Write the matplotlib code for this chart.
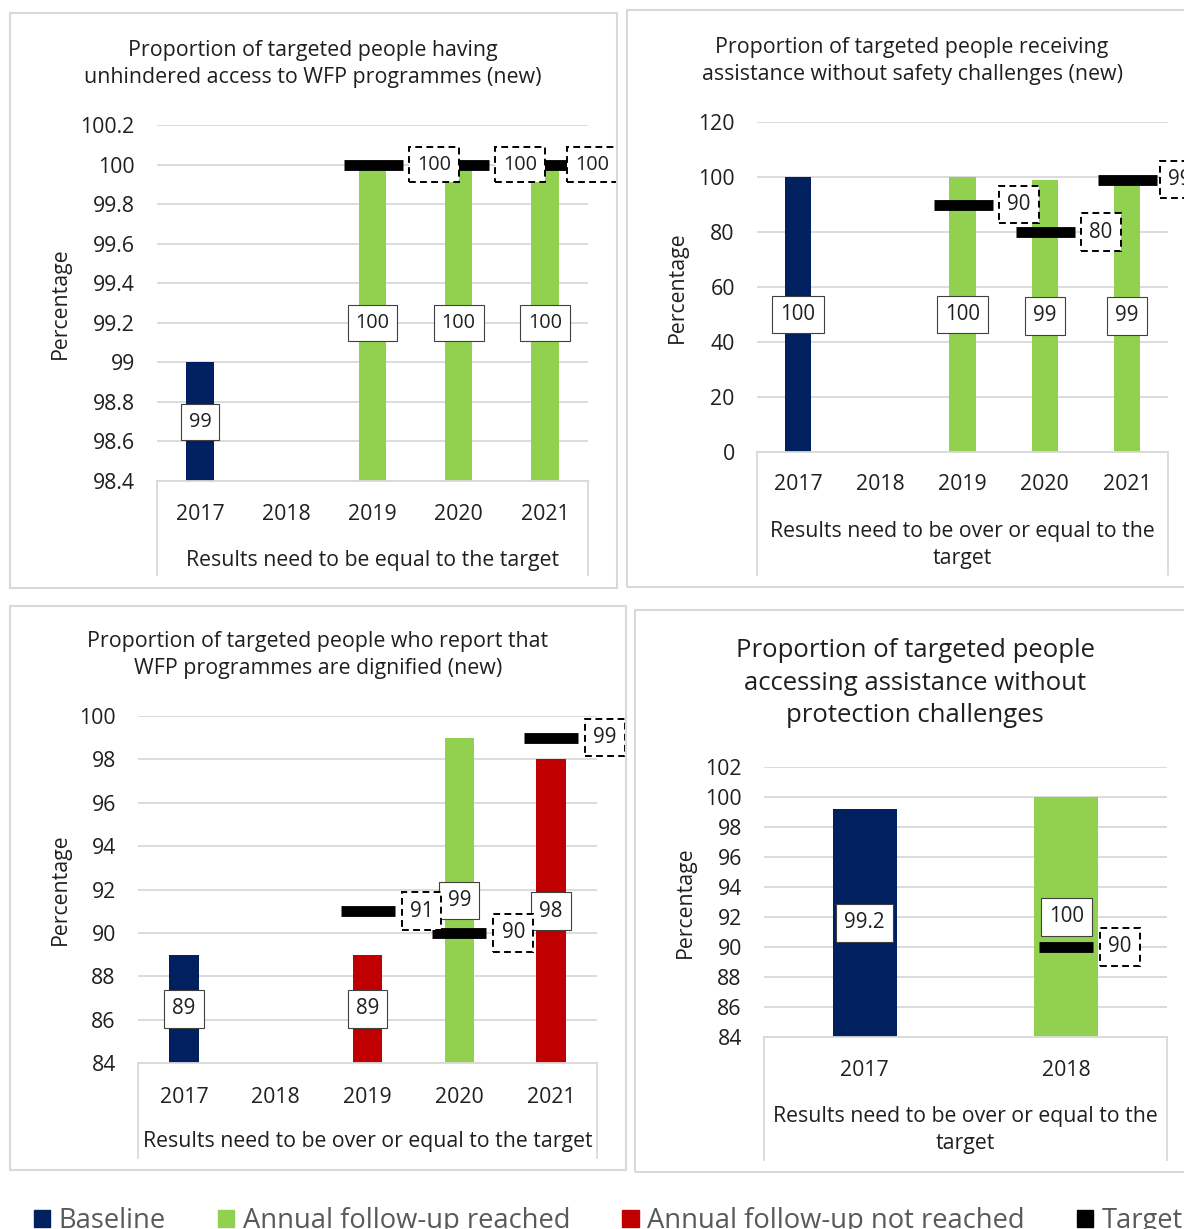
import numpy as np
import matplotlib
matplotlib.use("Agg")
import matplotlib.pyplot as plt
from matplotlib.lines import Line2D
from matplotlib.patches import Rectangle, Patch

plt.rcParams['font.family'] = ['Open Sans', 'DejaVu Sans']

# ---- data ----
years_5 = ['2017', '2018', '2019', '2020', '2021']
years_2 = ['2017', '2018']

access_values = [99, np.nan, 100, 100, 100]
access_status = ['base', None, 'reached', 'reached', 'reached']
access_targets = [np.nan, np.nan, 100, 100, 100]

safety_values = [100, np.nan, 100, 99, 99]
safety_status = ['base', None, 'reached', 'reached', 'reached']
safety_targets = [np.nan, np.nan, 90, 80, 99]

dignity_values = [89, np.nan, 89, 99, 98]
dignity_status = ['base', None, 'not', 'reached', 'not']
dignity_targets = [np.nan, np.nan, 91, 90, 99]

protection_values = [99.2, 100]
protection_status = ['base', 'reached']
protection_targets = [np.nan, 90]

legend_labels = ['Baseline', 'Annual follow-up reached',
                 'Annual follow-up not reached', 'Target']

NAVY = '#002060'
GREEN = '#92D050'
RED = '#C00000'
GRID = '#D9D9D9'
TXT = '#1f1f1f'
status_colors = {'base': NAVY, 'reached': GREEN, 'not': RED}

W, H = 1184, 1229
fig = plt.figure(figsize=(W / 100, H / 100), dpi=100)


def fx(x):
    return x / W


def fy(y):
    return 1 - y / H


def fig_line(x0, y0, x1, y1, color=GRID, lw=1.3):
    fig.add_artist(Line2D([fx(x0), fx(x1)], [fy(y0), fy(y1)],
                          transform=fig.transFigure, color=color, lw=lw))


target_labels = []
PAD = 0.4


def draw_panel(lay, title, years, values, status, targets, note, ymin, ymax, step,
               title_size=15.4, title_ls=1.36):
    # outer chart frame
    fx0, fy0, fx1, fy1 = lay['frame']
    fig.add_artist(Rectangle((fx(fx0), fy(fy1)), (fx1 - fx0) / W, (fy1 - fy0) / H,
                             transform=fig.transFigure, fill=False, ec=GRID, lw=1.5))

    x0, y0, x1, y1 = lay['axes']
    ax = fig.add_axes([fx(x0), fy(y1), (x1 - x0) / W, (y1 - y0) / H])
    x = np.arange(len(years))

    colors = [status_colors.get(s, 'none') for s in status]
    ax.bar(x, values, width=0.32, color=colors, zorder=2)

    ax.set_xlim(-0.5, len(years) - 0.5)
    ax.set_ylim(ymin, ymax)
    ticks = np.round(np.arange(ymin, ymax + step / 2, step), 1)
    ax.set_yticks(ticks, [f'{t:g}' for t in ticks])
    ax.set_xticks(x, years)
    ax.tick_params(axis='y', length=0, pad=16, labelsize=15.3, labelcolor=TXT)
    ax.tick_params(axis='x', length=0, pad=lay['xpad'], labelsize=15.3, labelcolor=TXT)
    ax.yaxis.grid(True, color=GRID, lw=1.3)
    ax.set_axisbelow(True)
    for s in ['top', 'right', 'left']:
        ax.spines[s].set_visible(False)
    ax.spines['bottom'].set_color(GRID)
    ax.spines['bottom'].set_linewidth(1.3)

    ax.set_ylabel('Percentage', fontsize=15.3, color=TXT)
    ax.yaxis.label.set_va('center')
    ax.yaxis.set_label_coords((lay['ylab_x'] - x0) / (x1 - x0), 0.5)

    lab_size = lay['lab_size']
    pad_px = PAD * lab_size * 100 / 72

    # data labels in the middle of the visible bar
    for xi, v in zip(x, values):
        if np.isnan(v):
            continue
        ax.text(xi, (ymin + v) / 2, f'{v:g}', ha='center', va='center',
                fontsize=lab_size, color=TXT, zorder=5,
                bbox=dict(boxstyle=f'square,pad={PAD}', fc='white', ec='#404040', lw=0.8))

    # targets: thick black dash + dashed label box to the right
    half = lay['mark_px'] / 2
    ax.plot(x, targets, ls='none', marker='_', ms=lay['mark_px'] * 0.72, mew=7.8,
            color='black', zorder=4, clip_on=False)
    for xi, t in zip(x, targets):
        if np.isnan(t):
            continue
        ann = ax.annotate(f'{t:g}', (xi, t), xytext=((half + 7 + pad_px) * 0.72, 0),
                          textcoords='offset points', ha='left', va='center',
                          fontsize=lab_size, color=TXT, zorder=6,
                          annotation_clip=False,
                          bbox=dict(boxstyle=f'square,pad={PAD}', fc='white', ec='black',
                                    lw=1.4, ls=(0, (3.5, 2.2))))
        target_labels.append((ann, fx1))

    # multi-level category box under the plot
    fig_line(x0, y1, x0, lay['box_bottom'])
    fig_line(x1, y1, x1, lay['box_bottom'])

    fig.text(fx((x0 + x1) / 2), fy(lay['note_y']), note, ha='center', va='center',
             fontsize=15.3, color=TXT, linespacing=1.37)
    fig.text(fx(lay['title_x']), fy(lay['title_y']), title, ha='center', va='center',
             fontsize=title_size, color=TXT, linespacing=title_ls)
    return ax


draw_panel(dict(frame=(10, 13, 617, 588), axes=(157, 125, 588, 481), xpad=16.5,
                ylab_x=60, lab_size=14.3, mark_px=59, box_bottom=575, note_y=561,
                title_x=313, title_y=64),
           'Proportion of targeted people having\nunhindered access to WFP programmes (new)',
           years_5, access_values, access_status, access_targets,
           'Results need to be equal to the target', 98.4, 100.2, 0.2)

draw_panel(dict(frame=(627, 10, 1200, 587), axes=(757, 122, 1168, 452), xpad=16,
                ylab_x=677, lab_size=14.8, mark_px=59, box_bottom=575, note_y=545,
                title_x=912, title_y=61),
           'Proportion of targeted people receiving\nassistance without safety challenges (new)',
           years_5, safety_values, safety_status, safety_targets,
           'Results need to be over or equal to the\ntarget', 0, 120, 20)

draw_panel(dict(frame=(10, 606, 626, 1170), axes=(138, 716, 597, 1063), xpad=17.5,
                ylab_x=60, lab_size=14.8, mark_px=54, box_bottom=1158, note_y=1142,
                title_x=318, title_y=655),
           'Proportion of targeted people who report that\nWFP programmes are dignified (new)',
           years_5, dignity_values, dignity_status, dignity_targets,
           'Results need to be over or equal to the target', 84, 100, 2)

draw_panel(dict(frame=(635, 610, 1200, 1172), axes=(764, 767, 1167, 1037), xpad=16.5,
                ylab_x=685, lab_size=14.8, mark_px=54, box_bottom=1160, note_y=1130,
                title_x=915, title_y=683),
           'Proportion of targeted people\naccessing assistance without\nprotection challenges',
           years_2, protection_values, protection_status, protection_targets,
           'Results need to be over or equal to the\ntarget', 84, 102, 2,
           title_size=18.5, title_ls=1.40)

# keep target labels inside their chart frame (Excel shifts them back in)
fig.canvas.draw()
for ann, right in target_labels:
    ext = ann.get_bbox_patch().get_window_extent()
    if ext.x1 > right:
        dx, dy = ann.xyann
        ann.xyann = (dx - (ext.x1 - right) * 0.72, dy)

handles = [Patch(color=c) for c in [NAVY, GREEN, RED, 'black']]
fig.legend(handles, legend_labels, ncol=4, loc='upper left',
           bbox_to_anchor=(fx(34), fy(1207)), frameon=False, fontsize=19.75,
           handlelength=0.6, handleheight=0.6, handletextpad=0.3,
           columnspacing=1.9, labelcolor='#595959', borderpad=0, borderaxespad=0)

fig.savefig('out.png', dpi=100)
